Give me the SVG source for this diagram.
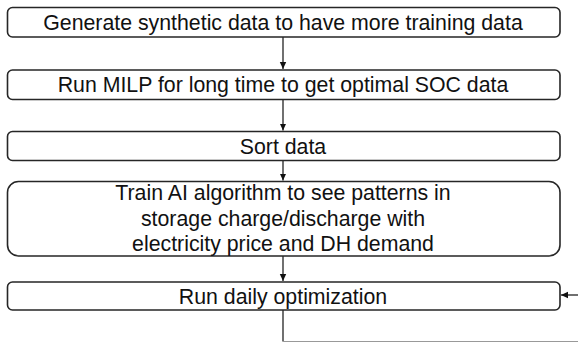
<svg xmlns="http://www.w3.org/2000/svg" width="578" height="343" viewBox="0 0 578 343">
<style>
.box{fill:#fff;stroke:#262626;stroke-width:1.6}
.t{font-family:"Liberation Sans",Arial,sans-serif;font-size:21.3px;fill:#111;text-anchor:middle}
.c{fill:none;stroke:#111;stroke-width:1.2}
</style>
<defs>
<marker id="ah" markerWidth="8" markerHeight="8" refX="7" refY="4" orient="auto" markerUnits="userSpaceOnUse">
<path d="M0,0.8 L7,4 L0,7.2 Z" fill="#111"/>
</marker>
</defs>
<rect width="578" height="343" fill="#fff"/>
<g id="connectors">
<line class="c" x1="283" y1="37" x2="283" y2="69" marker-end="url(#ah)"/>
<line class="c" x1="283" y1="99.5" x2="283" y2="130.5" marker-end="url(#ah)"/>
<line class="c" x1="283" y1="160.5" x2="283" y2="180.5" marker-end="url(#ah)"/>
<line class="c" x1="283" y1="256" x2="283" y2="281" marker-end="url(#ah)"/>
<path class="c" d="M283,310 V341.5"/>
<path d="M283,341.5 H578" fill="none" stroke="#999" stroke-width="1.2"/>
<line class="c" x1="578" y1="295" x2="561" y2="295" marker-end="url(#ah)"/>
</g>
<g id="n1">
<rect class="box" x="7.5" y="7.5" width="552.5" height="29.5" rx="5"/>
<text class="t" x="283" y="29.5">Generate synthetic data to have more training data</text>
</g>
<g id="n2">
<rect class="box" x="7.5" y="70" width="552.5" height="29.5" rx="5"/>
<text class="t" x="283" y="92.2">Run MILP for long time to get optimal SOC data</text>
</g>
<g id="n3">
<rect class="box" x="7.5" y="131.5" width="552.5" height="29" rx="5"/>
<text class="t" x="283" y="153.6">Sort data</text>
</g>
<g id="n4">
<rect class="box" x="7.5" y="181.5" width="552.5" height="74.5" rx="11"/>
<text class="t" x="283" y="200">Train AI algorithm to see patterns in</text>
<text class="t" x="283" y="225.5">storage charge/discharge with</text>
<text class="t" x="283" y="251">electricity price and DH demand</text>
</g>
<g id="n5">
<rect class="box" x="7.5" y="282" width="552.5" height="28" rx="5"/>
<text class="t" x="283" y="303.5">Run daily optimization</text>
</g>
</svg>
